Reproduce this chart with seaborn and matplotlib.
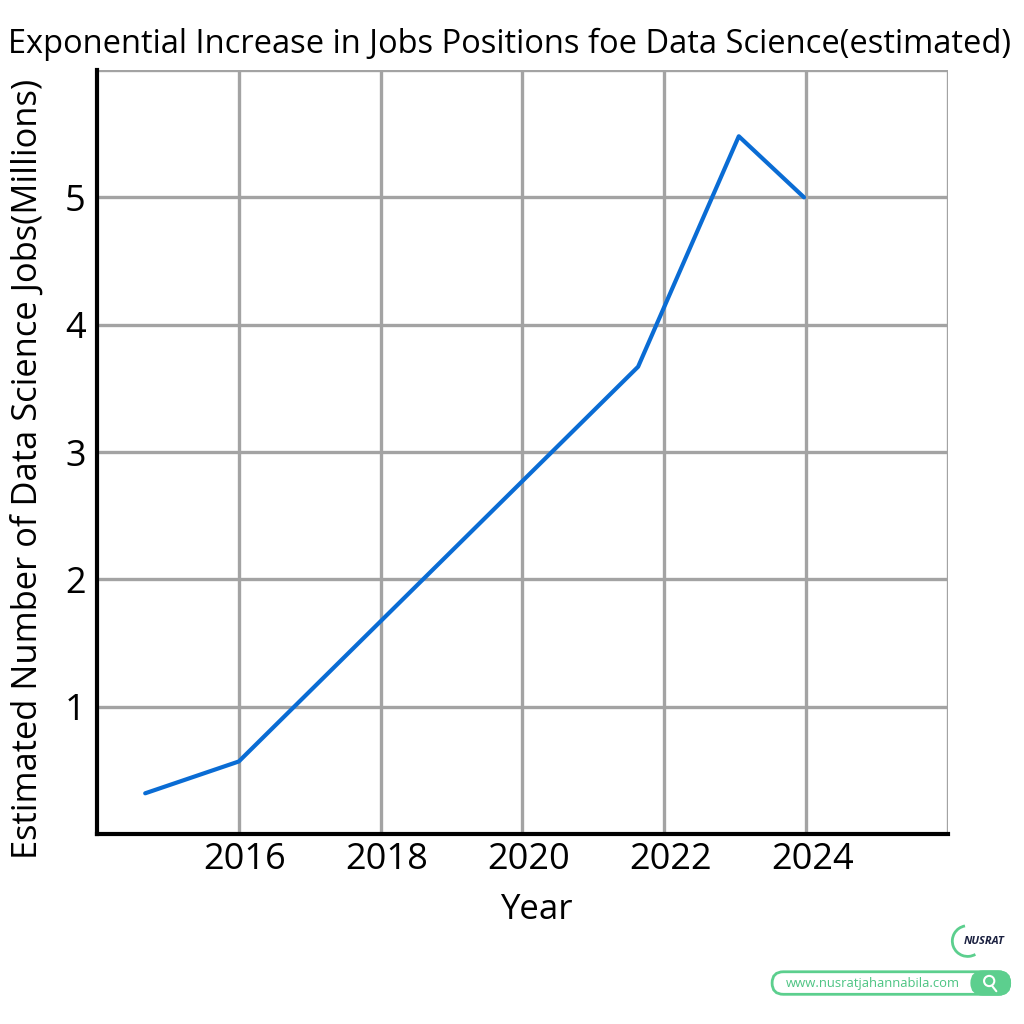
import numpy as np
import pandas as pd
import seaborn as sns
import matplotlib.pyplot as plt
import matplotlib.transforms as mtransforms
from matplotlib.patches import FancyBboxPatch, Arc, Circle

# Estimated data science jobs (millions)
years = [2014.68, 2016.0, 2021.63, 2023.05, 2023.97]
jobs = [0.32, 0.57, 3.67, 5.48, 5.0]
x_ticks = [2016, 2018, 2020, 2022, 2024]
y_ticks = [1, 2, 3, 4, 5]

df = pd.DataFrame({'Year': years, 'Jobs': jobs})

sns.set_style('white')
plt.rcParams['font.family'] = ['Open Sans', 'DejaVu Sans']

fig = plt.figure(figsize=(10.24, 10.24), dpi=100)
ax = fig.add_axes([0.0947, 0.1855, 0.8311, 0.7461])

sns.lineplot(data=df, x='Year', y='Jobs', ax=ax, color='#0a6cd4', linewidth=3, sort=False)

ax.set_xlim(2014, 2026)
ax.set_ylim(0, 6)
# gray grid at every 2 years / every million, including the top and right edges
for gx in [2016, 2018, 2020, 2022, 2024, 2026]:
    ax.axvline(gx, color='#a3a3a3', linewidth=2.4, zorder=0)
for gy in [1, 2, 3, 4, 5, 6]:
    ax.axhline(gy, color='#a3a3a3', linewidth=2.4, zorder=0)

ax.set_xticks(x_ticks)
ax.set_yticks(y_ticks)
ax.tick_params(axis='both', length=0, labelsize=26, colors='black')
ax.tick_params(axis='x', pad=6)
ax.tick_params(axis='y', pad=8)
# year labels sit a little right of their grid lines in the original
shift = mtransforms.ScaledTranslation(6 / 100, 0, fig.dpi_scale_trans)
for lbl in ax.get_xticklabels():
    lbl.set_transform(lbl.get_transform() + shift)
for side in ['top', 'right']:
    ax.spines[side].set_visible(False)
for side in ['left', 'bottom']:
    ax.spines[side].set_color('black')
    ax.spines[side].set_linewidth(3)

ax.set_xlabel('Year', fontsize=25, color='black')
ax.xaxis.set_label_coords(0.516, -0.077)
ax.set_ylabel('Estimated Number of Data Science Jobs(Millions)', fontsize=24.8, color='black')
ax.yaxis.set_label_coords(-0.062, 0.478)
fig.text(0.498, 0.957, 'Exponential Increase in Jobs Positions foe Data Science(estimated)',
         ha='center', va='center', fontsize=23.5, color='black')

# watermark: logo and search bar
green = '#5ccf8e'
fig.text(0.961, 0.081, 'NUSRAT', ha='center', va='center', fontsize=8,
         fontweight='bold', style='italic', color='#1b2140')
fig.patches.append(Arc((0.945, 0.081), 0.03, 0.03, theta1=100, theta2=300,
                       color=green, linewidth=2, transform=fig.transFigure))
bar = FancyBboxPatch((0.754, 0.029), 0.232, 0.022,
                     boxstyle='round,pad=0,rounding_size=0.011',
                     facecolor='white', edgecolor=green, linewidth=2,
                     transform=fig.transFigure)
fig.patches.append(bar)
btn = FancyBboxPatch((0.949, 0.029), 0.037, 0.022,
                     boxstyle='round,pad=0,rounding_size=0.011',
                     facecolor=green, edgecolor=green, linewidth=2,
                     transform=fig.transFigure)
fig.patches.append(btn)
fig.patches.append(Circle((0.966, 0.042), 0.005, fill=False, edgecolor='white',
                          linewidth=1.5, transform=fig.transFigure))
fig.add_artist(plt.Line2D([0.969, 0.973], [0.037, 0.032], color='white', linewidth=1.5,
                          transform=fig.transFigure))
fig.text(0.852, 0.040, 'www.nusratjahannabila.com', ha='center', va='center',
         fontsize=9.4, color='#4cc482')

fig.savefig('out.png', dpi=100, facecolor='white')
